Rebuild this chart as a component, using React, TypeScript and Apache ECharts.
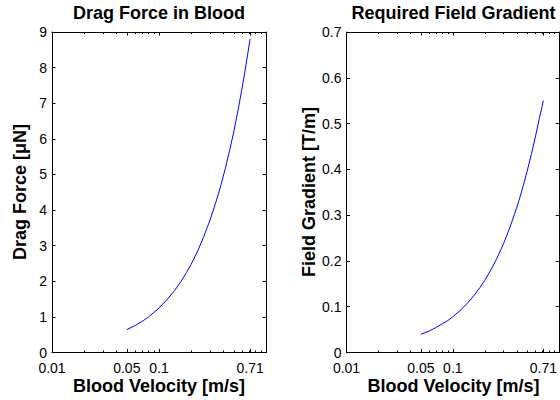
import React, { useEffect, useRef } from "react";
import * as echarts from "echarts";

// Blood velocity samples [m/s]
const velocities = [0.05, 0.06, 0.07, 0.08, 0.09, 0.1, 0.12, 0.14, 0.16, 0.18, 0.2, 0.23, 0.26, 0.3, 0.34, 0.38, 0.42, 0.46, 0.5, 0.55, 0.6, 0.65, 0.71];
// Drag force [µN]
const dragForce = [0.64, 0.76, 0.88, 1.0, 1.13, 1.25, 1.5, 1.74, 1.99, 2.24, 2.48, 2.85, 3.23, 3.72, 4.22, 4.71, 5.21, 5.71, 6.2, 6.83, 7.45, 8.07, 8.81];
// Required field gradient [T/m]
const fieldGradient = [0.04, 0.047, 0.055, 0.063, 0.07, 0.078, 0.094, 0.11, 0.126, 0.142, 0.158, 0.182, 0.206, 0.238, 0.27, 0.302, 0.333, 0.365, 0.396, 0.435, 0.473, 0.511, 0.55];

const xTickValues = [0.01, 0.05, 0.1, 0.71];
const xTickLabels = ["0.01", "0.05", "0.1", "0.71"];
const xMinorTicks = [0.02, 0.03, 0.04, 0.06, 0.07, 0.08, 0.09, 0.2, 0.3, 0.4, 0.5, 0.6, 0.7, 0.8, 0.9];

const titles = ["Drag Force in Blood", "Required Field Gradient"];
const xNames = ["Blood Velocity [m/s]", "Blood Velocity [m/s]"];
const yNames = ["Drag Force [μN]", "Field Gradient [T/m]"];
const yMax = [9, 0.7];
const yInterval = [1, 0.1];

const FONT = '"Liberation Sans", Arial, Helvetica, sans-serif';

export default function App() {
  const ref = useRef<HTMLDivElement>(null);
  useEffect(() => {
    if (!ref.current) return;
    const chart = echarts.init(ref.current, null, { renderer: "svg" });
    const lg = (v: number) => Math.log10(v);
    const black = "#000";
    const grids = [
      { left: 52, top: 32, width: 214, height: 320.5 },
      { left: 346.5, top: 32, width: 214, height: 320.5 },
    ];
    const xAxis: any[] = [];
    const yAxis: any[] = [];
    const series: any[] = [];
    const seriesData = [dragForce, fieldGradient];
    const centersX = [159, 453.5];
    const yNameX = [20, 309];
    grids.forEach((_, gi) => {
      const base = {
        gridIndex: gi,
        type: "value",
        min: -2,
        max: 0,
        splitLine: { show: false },
      };
      xAxis.push({ type: "log", gridIndex: gi, min: 0.01, max: 1, logBase: 10, show: false });
      xAxis.push({
        ...base,
        position: "bottom",
        axisLine: { show: true, onZero: false, lineStyle: { color: black, width: 1 } },
        axisTick: { show: true, inside: true, length: 3.5, customValues: xTickValues.map(lg), lineStyle: { color: black } },
        axisLabel: {
          show: true,
          customValues: xTickValues.map(lg),
          margin: 9,
          color: black,
          fontSize: 14,
          lineHeight: 12,
          fontFamily: FONT,
          formatter: (val: number) => {
            let best = 0;
            xTickValues.forEach((t, i) => {
              if (Math.abs(lg(t) - val) < Math.abs(lg(xTickValues[best]) - val)) best = i;
            });
            return xTickLabels[best];
          },
        },
      });
      xAxis.push({
        ...base,
        position: "top",
        axisLine: { show: true, onZero: false, lineStyle: { color: black, width: 1 } },
        axisTick: { show: true, inside: true, length: 3.5, customValues: xTickValues.map(lg), lineStyle: { color: black } },
        axisLabel: { show: false },
      });
      xAxis.push({
        ...base,
        position: "bottom",
        axisLine: { show: false, onZero: false },
        axisTick: { show: true, inside: true, length: 2, customValues: xMinorTicks.map(lg), lineStyle: { color: black } },
        axisLabel: { show: false },
      });
      xAxis.push({
        ...base,
        position: "top",
        axisLine: { show: false, onZero: false },
        axisTick: { show: true, inside: true, length: 2, customValues: xMinorTicks.map(lg), lineStyle: { color: black } },
        axisLabel: { show: false },
      });
      const yBase = {
        type: "value",
        gridIndex: gi,
        min: 0,
        max: yMax[gi],
        interval: yInterval[gi],
        splitLine: { show: false },
        axisLine: { show: true, onZero: false, lineStyle: { color: black, width: 1 } },
        axisTick: { show: true, inside: true, length: 3.5, lineStyle: { color: black } },
      };
      yAxis.push({
        ...yBase,
        position: "left",
        axisLabel: { show: true, margin: 5, color: black, fontSize: 14, lineHeight: 10, fontFamily: FONT },
      });
      yAxis.push({ ...yBase, position: "right", axisLabel: { show: false } });
      series.push({
        type: "line",
        xAxisIndex: gi * 5,
        yAxisIndex: gi * 2,
        data: velocities.map((v, i) => [v, seriesData[gi][i]]),
        showSymbol: false,
        smooth: false,
        lineStyle: { color: "#0000ff", width: 1 },
        itemStyle: { color: "#0000ff" },
      });
    });

    const graphic: any[] = [];
    [0, 1].forEach((gi) => {
      graphic.push({
        type: "text",
        x: centersX[gi],
        y: 13,
        style: { text: titles[gi], fill: black, font: `bold 18px ${FONT}`, align: "center", verticalAlign: "middle" },
      });
      graphic.push({
        type: "text",
        x: centersX[gi],
        y: 386,
        style: { text: xNames[gi], fill: black, font: `bold 18px ${FONT}`, align: "center", verticalAlign: "middle" },
      });
      graphic.push({
        type: "text",
        x: yNameX[gi],
        y: 192,
        rotation: Math.PI / 2,
        style: { text: yNames[gi], fill: black, font: `bold 18px ${FONT}`, align: "center", verticalAlign: "middle" },
      });
    });

    chart.setOption({
      animation: false,
      backgroundColor: "#fff",
      grid: grids,
      xAxis,
      yAxis,
      series,
      graphic,
    });
    return () => chart.dispose();
  }, []);
  return (
    <div
      ref={ref}
      style={{ position: "fixed", left: 0, top: 0, width: 560, height: 400, background: "#fff" }}
    />
  );
}
